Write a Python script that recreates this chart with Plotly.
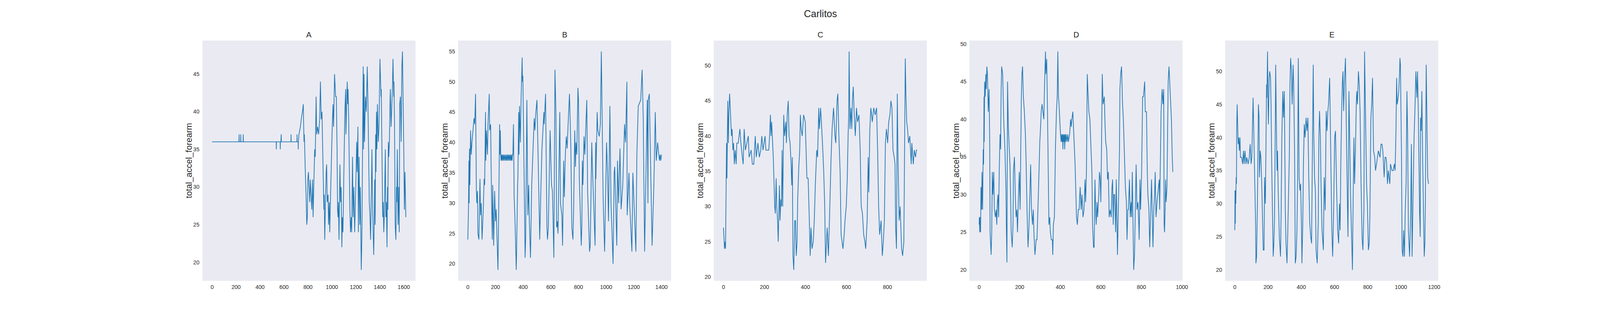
import plotly.graph_objects as go
import numpy as np

# ---- data: (sample index, total_accel_forearm) ----
A_points = [(0,36),(224,36),(225,37),(226,36),(238,36),(239,37),(240,36),(259,36),(260,37),(261,36),(535,36),(536,35),(537,36),(568,36),(569,35),(570,36),(574,36),(575,37),(577,37),(578,36),(658,36),(659,37),(660,36),(708,36),(709,37),(710,36),(718,36),(719,35),(720,36),(725,37),(737,38),(744,39),(754,40),(761,41),(767,36),(770,37),(774,34),(778,32),(784,29),(790,25),(795,26),(799,31),(804,32),(810,30),(815,28),(820,31),(826,29),(832,27),(839,31),(843,26),(850,31),(856,35),(861,34),(868,42),(873,37),(880,38),(889,37),(898,39),(904,44),(911,39),(917,40),(922,36),(928,31),(933,27),(936,29),(940,23),(945,27),(952,32),(956,33),(961,28),(968,29),(972,25),(978,28),(982,24),(986,27),(990,30),(995,33),(1001,37),(1005,39),(1009,41),(1014,38),(1022,45),(1031,42),(1037,42),(1043,35),(1047,27),(1051,26),(1055,28),(1059,23),(1063,28),(1067,33),(1072,28),(1077,30),(1083,22),(1087,26),(1092,24),(1096,28),(1100,33),(1104,38),(1108,40),(1115,43),(1117,37),(1123,41),(1128,44),(1132,41),(1135,43),(1140,39),(1144,33),(1150,27),(1155,24),(1161,26),(1165,24),(1169,30),(1172,34),(1177,26),(1183,30),(1190,24),(1195,27),(1199,30),(1207,36),(1211,32),(1217,38),(1221,24),(1227,34),(1233,25),(1237,30),(1245,19),(1250,23),(1254,32),(1257,37),(1261,46),(1264,35),(1268,45),(1272,36),(1280,42),(1287,40),(1295,46),(1301,41),(1307,35),(1312,28),(1318,26),(1323,23),(1330,30),(1334,35),(1340,27),(1349,21),(1353,25),(1357,31),(1361,25),(1365,37),(1368,32),(1372,40),(1376,35),(1380,41),(1387,36),(1393,38),(1401,47),(1410,42),(1412,43),(1418,35),(1424,26),(1428,28),(1433,24),(1437,26),(1443,34),(1446,35),(1450,26),(1455,28),(1460,22),(1464,30),(1467,27),(1471,36),(1475,34),(1480,36),(1486,42),(1488,43),(1494,38),(1500,41),(1505,43),(1510,47),(1516,42),(1518,44),(1523,38),(1528,25),(1534,23),(1539,30),(1542,28),(1546,35),(1552,25),(1558,30),(1562,24),(1566,41),(1572,42),(1578,36),(1584,46),(1589,48),(1592,45),(1600,35),(1605,27),(1610,32),(1617,26)]

B_points = [(0,24),(2,27),(5,29),(8,37),(10,30),(12,39),(15,33),(20,42),(25,38),(30,40),(38,42),(45,44),(50,43),(56,48),(62,32),(65,30),(70,32),(73,25),(80,24),(88,34),(92,28),(97,30),(103,24),(112,29),(118,34),(122,33),(128,45),(130,37),(135,42),(142,38),(146,43),(155,48),(158,42),(165,43),(172,30),(177,24),(180,33),(187,23),(194,32),(200,27),(205,29),(210,25),(213,24),(218,19),(222,26),(226,33),(230,43),(232,38),(235,42),(238,38),(240,37),(243,38),(247,37),(250,38),(255,37),(258,38),(263,37),(266,38),(272,37),(275,38),(280,37),(284,38),(288,37),(292,38),(297,37),(300,38),(305,37),(308,38),(313,37),(316,38),(320,37),(323,38),(326,38),(330,43),(335,31),(340,28),(343,26),(346,23),(350,19),(352,21),(360,33),(362,34),(368,45),(370,38),(374,46),(380,40),(385,47),(393,54),(395,50),(398,51),(410,29),(414,21),(418,24),(427,47),(434,28),(440,33),(445,27),(453,21),(456,25),(462,33),(470,38),(480,44),(485,42),(492,45),(500,47),(510,36),(515,29),(520,24),(528,32),(536,39),(550,45),(552,43),(562,48),(568,36),(572,26),(576,24),(582,26),(595,42),(605,33),(612,32),(622,21),(630,52),(637,45),(642,26),(647,27),(652,25),(665,45),(670,30),(680,28),(685,23),(693,37),(698,31),(705,38),(712,41),(718,39),(725,43),(735,48),(745,39),(752,26),(760,24),(765,29),(773,42),(778,36),(782,40),(788,38),(796,49),(800,47),(806,34),(815,26),(820,23),(824,26),(828,37),(832,33),(840,41),(846,38),(860,47),(866,32),(876,25),(880,22),(885,23),(896,40),(902,35),(916,25),(920,23),(924,40),(926,34),(935,45),(940,42),(950,41),(958,43),(963,51),(965,55),(968,50),(975,39),(978,31),(985,25),(989,22),(995,30),(1003,40),(1010,35),(1017,27),(1027,46),(1035,30),(1050,20),(1053,27),(1058,35),(1062,36),(1077,23),(1082,37),(1090,30),(1100,39),(1108,29),(1120,33),(1128,40),(1133,43),(1140,40),(1150,50),(1152,28),(1165,35),(1170,30),(1186,22),(1193,35),(1215,22),(1222,38),(1232,46),(1250,47),(1260,52),(1268,44),(1278,22),(1297,47),(1302,30),(1304,47),(1312,48),(1332,23),(1345,33),(1355,45),(1362,37),(1372,40),(1380,38),(1385,37),(1390,38),(1395,37),(1400,38)]

C_points = [(0,27),(5,24),(8,25),(10,24),(12,30),(15,39),(17,34),(19,39),(21,45),(24,39),(26,43),(30,46),(34,43),(39,40),(42,41),(46,38),(49,39),(53,36),(57,38),(62,36),(65,39),(72,39),(80,41),(85,39),(92,37),(96,36),(101,41),(107,38),(114,39),(121,40),(125,37),(135,38),(141,36),(148,36),(155,40),(160,37),(168,39),(175,37),(182,38),(187,40),(193,38),(203,40),(207,38),(221,38),(225,40),(229,43),(232,40),(235,42),(243,37),(250,30),(253,29),(257,34),(260,30),(264,28),(267,25),(273,33),(276,28),(280,31),(283,30),(286,38),(289,30),(294,43),(298,40),(304,42),(307,39),(311,43),(316,45),(320,40),(325,39),(330,36),(333,33),(336,37),(339,23),(343,21),(348,28),(351,28),(355,23),(359,25),(362,31),(364,33),(368,36),(372,38),(375,43),(379,41),(384,40),(391,43),(399,42),(407,34),(413,34),(418,29),(423,23),(427,27),(432,24),(438,25),(443,28),(448,33),(455,38),(459,37),(465,44),(468,41),(474,44),(483,39),(489,35),(494,30),(498,22),(506,27),(512,23),(518,29),(525,37),(530,41),(537,44),(544,40),(548,39),(554,45),(558,46),(563,40),(569,35),(574,26),(578,25),(583,24),(589,26),(593,28),(599,30),(604,34),(608,40),(611,43),(613,52),(617,41),(622,44),(626,41),(629,45),(633,47),(638,43),(643,40),(649,44),(654,42),(661,43),(667,38),(672,30),(678,29),(684,26),(690,25),(694,24),(701,28),(706,37),(709,32),(714,41),(719,44),(726,42),(733,44),(740,43),(747,44),(752,38),(757,30),(762,26),(769,28),(775,23),(780,25),(785,28),(790,39),(795,41),(801,39),(806,42),(812,43),(817,45),(822,44),(827,38),(833,37),(837,36),(840,27),(844,24),(848,46),(851,38),(857,28),(862,30),(869,24),(874,23),(880,25),(883,36),(887,51),(890,46),(894,42),(898,41),(903,39),(909,40),(914,37),(916,36),(919,39),(926,36),(931,38),(937,37),(941,38),(945,38)]

D_points = [(0,26),(1,27),(3,25),(5,27),(7,25),(9,31),(12,28),(14,33),(17,28),(20,36),(22,34),(24,43),(25,37),(27,45),(30,43),(33,46),(35,44),(38,47),(41,46),(45,41),(49,44),(52,37),(54,25),(59,22),(62,25),(65,33),(68,30),(72,33),(75,28),(80,27),(84,28),(87,26),(90,29),(93,30),(96,27),(99,33),(103,38),(106,36),(108,43),(111,47),(116,46),(121,40),(127,36),(132,31),(134,26),(137,21),(140,45),(144,39),(147,37),(152,34),(155,30),(158,25),(163,23),(167,26),(169,33),(174,35),(178,30),(182,27),(186,28),(189,25),(193,29),(198,33),(202,28),(205,35),(208,43),(211,46),(214,47),(218,43),(223,41),(228,38),(231,35),(236,28),(241,23),(246,26),(250,30),(254,34),(258,28),(263,26),(267,28),(270,25),(275,22),(281,24),(285,24),(289,27),(292,30),(295,33),(299,37),(303,39),(306,41),(310,42),(315,41),(319,40),(322,44),(327,49),(329,46),(333,48),(337,41),(341,31),(344,26),(348,27),(351,25),(356,24),(361,24),(363,22),(366,26),(371,27),(376,36),(381,41),(385,43),(388,49),(391,43),(394,42),(399,39),(404,37),(406,38),(409,37),(411,38),(413,36),(415,38),(418,37),(420,38),(422,36),(424,38),(426,37),(429,38),(433,37),(437,38),(440,37),(446,38),(451,40),(454,39),(457,40),(462,41),(465,39),(470,36),(473,34),(477,30),(480,27),(484,26),(489,28),(493,28),(498,31),(503,28),(507,30),(512,27),(517,28),(522,32),(525,29),(529,33),(533,46),(536,44),(541,41),(546,40),(551,36),(556,33),(559,26),(564,23),(567,23),(571,32),(574,28),(577,26),(581,29),(584,27),(590,30),(593,33),(597,32),(600,29),(604,38),(607,46),(611,42),(617,43),(621,39),(624,37),(629,36),(633,32),(637,33),(641,27),(646,28),(651,27),(655,31),(658,32),(661,26),(664,30),(668,30),(673,25),(676,32),(682,22),(687,29),(692,36),(694,44),(698,46),(702,47),(707,42),(711,40),(716,35),(721,31),(726,29),(729,24),(733,28),(736,28),(741,32),(745,27),(749,29),(752,27),(755,33),(758,26),(762,20),(766,22),(771,31),(774,34),(778,28),(783,29),(787,26),(789,24),(793,32),(796,28),(801,33),(806,43),(810,43),(816,45),(819,41),(825,41),(829,33),(832,30),(837,28),(841,23),(846,28),(850,32),(853,28),(857,23),(861,28),(865,30),(868,33),(872,27),(877,29),(881,30),(884,31),(888,32),(890,28),(893,33),(897,41),(902,44),(906,42),(910,44),(912,26),(914,25),(917,28),(919,32),(922,29),(926,31),(929,37),(932,45),(936,47),(941,44),(945,42),(948,40),(952,35),(955,33)]

E_points = [(0,26),(1,32),(3,27),(4,32),(6,30),(8,34),(10,33),(11,41),(14,45),(17,42),(20,39),(24,40),(27,38),(31,40),(34,37),(41,37),(47,36),(52,38),(56,36),(61,38),(67,36),(72,37),(80,36),(87,37),(92,39),(98,36),(102,37),(110,46),(117,37),(119,34),(122,29),(125,27),(127,21),(131,22),(136,30),(142,45),(146,43),(148,34),(153,38),(157,37),(162,33),(167,28),(171,23),(176,23),(179,34),(184,30),(188,42),(191,48),(193,46),(197,53),(200,45),(202,42),(207,49),(210,50),(215,49),(218,45),(222,36),(227,27),(231,22),(235,24),(239,28),(244,43),(246,51),(250,42),(254,35),(257,38),(261,32),(268,25),(275,22),(279,29),(283,40),(289,47),(293,43),(298,47),(304,29),(308,24),(314,21),(319,26),(323,32),(328,37),(332,48),(336,52),(341,50),(345,45),(351,51),(355,47),(360,37),(364,21),(369,22),(374,26),(378,34),(382,52),(387,34),(392,32),(396,33),(401,27),(404,21),(409,27),(413,36),(418,42),(423,40),(429,43),(434,41),(440,43),(445,34),(451,27),(457,25),(462,24),(466,35),(472,51),(475,41),(480,34),(485,32),(489,23),(496,21),(502,27),(506,40),(510,44),(515,40),(519,33),(525,26),(533,23),(538,34),(544,29),(550,44),(555,41),(560,44),(564,45),(571,49),(575,41),(580,31),(584,26),(589,22),(595,29),(601,40),(606,41),(612,33),(619,26),(625,24),(630,30),(634,26),(638,36),(643,44),(647,48),(651,50),(655,44),(659,48),(666,52),(672,40),(677,32),(681,25),(687,47),(691,40),(697,31),(703,25),(708,20),(712,30),(717,40),(721,33),(726,38),(731,45),(734,47),(738,45),(744,50),(749,48),(754,44),(760,33),(766,25),(771,23),(777,29),(781,53),(787,43),(793,33),(798,30),(804,23),(809,24),(813,28),(819,43),(824,45),(829,49),(835,38),(842,37),(847,35),(853,36),(859,37),(864,38),(874,37),(880,39),(886,39),(891,38),(895,36),(899,34),(904,37),(910,37),(914,36),(919,33),(924,35),(928,34),(933,33),(937,36),(946,35),(954,35),(960,36),(965,35),(970,41),(974,49),(977,45),(983,46),(987,47),(992,50),(994,52),(997,51),(1003,38),(1007,23),(1012,22),(1016,26),(1021,22),(1026,29),(1031,33),(1036,47),(1040,41),(1045,26),(1052,22),(1059,29),(1063,39),(1067,22),(1073,32),(1079,40),(1084,44),(1090,50),(1096,46),(1100,50),(1105,43),(1112,29),(1116,25),(1118,43),(1122,41),(1126,47),(1130,38),(1135,29),(1140,22),(1144,24),(1147,30),(1152,51),(1157,43),(1161,34),(1166,33)]

panel_titles = ["A", "B", "C", "D", "E"]
series = [A_points, B_points, C_points, D_points, E_points]
suptitle = "Carlitos"
y_label = "total_accel_forearm"

# ---- layout constants (matplotlib-like subplot grid) ----
# the viewing window is 4096 px wide, so the figure is laid out to fill it
W, H = 4096, 800
left, right, bottom, top, wspace = 0.125, 0.9, 0.11, 0.88, 0.2
n = len(series)
w = (right - left) / (n + (n - 1) * wspace)
FONT = "Liberation Sans Narrow, Arial Narrow, Liberation Sans, Arial, sans-serif"
TXT = "#262626"

fig = go.Figure()
layout = dict(
    width=W, height=H,
    margin=dict(l=0, r=0, t=0, b=0),
    paper_bgcolor="white", plot_bgcolor="#EAEAF2",
    showlegend=False,
    font=dict(family=FONT, color=TXT),
)
annotations = []
for k, (pts, ttl) in enumerate(zip(series, panel_titles)):
    xs = np.array([p[0] for p in pts], dtype=float)
    ys = np.array([p[1] for p in pts], dtype=float)
    ax = "" if k == 0 else str(k + 1)
    fig.add_trace(go.Scatter(x=xs, y=ys, mode="lines",
                             line=dict(color="#1f77b4", width=1.8),
                             xaxis="x" + ax, yaxis="y" + ax))
    x0 = left + k * w * (1 + wspace)
    x1 = x0 + w
    xr = xs.max() - xs.min()
    yr = ys.max() - ys.min()
    tickfont = dict(family=FONT, size=14, color=TXT)
    layout["xaxis" + ax] = dict(
        domain=[x0, x1], anchor="y" + ax,
        range=[xs.min() - 0.05 * xr, xs.max() + 0.05 * xr],
        dtick=200, tick0=0, showgrid=False, zeroline=False, showline=False,
        ticks="outside", ticklen=3, tickcolor="rgba(0,0,0,0)", tickfont=tickfont)
    layout["yaxis" + ax] = dict(
        domain=[bottom, top], anchor="x" + ax,
        range=[ys.min() - 0.05 * yr, ys.max() + 0.05 * yr],
        dtick=5, tick0=0, showgrid=False, zeroline=False, showline=False,
        ticks="outside", ticklen=4, tickcolor="rgba(0,0,0,0)", tickfont=tickfont)
    annotations.append(dict(text=ttl, x=(x0 + x1) / 2, y=1 - 81 / H,
                            xref="paper", yref="paper", xanchor="center", yanchor="middle",
                            showarrow=False, font=dict(family=FONT, size=20, color=TXT)))
    annotations.append(dict(text=y_label, x=x0 - 35 / W, y=(bottom + top) / 2,
                            xref="paper", yref="paper", xanchor="center", yanchor="middle",
                            textangle=-90, showarrow=False,
                            font=dict(family=FONT, size=22, color=TXT)))

annotations.append(dict(text=suptitle, x=(left + right) / 2, y=1 - 27 / H,
                        xref="paper", yref="paper", xanchor="center", yanchor="middle",
                        showarrow=False, font=dict(family=FONT, size=25, color=TXT)))
layout["annotations"] = annotations
fig.update_layout(**layout)
fig.write_html("out.html")
